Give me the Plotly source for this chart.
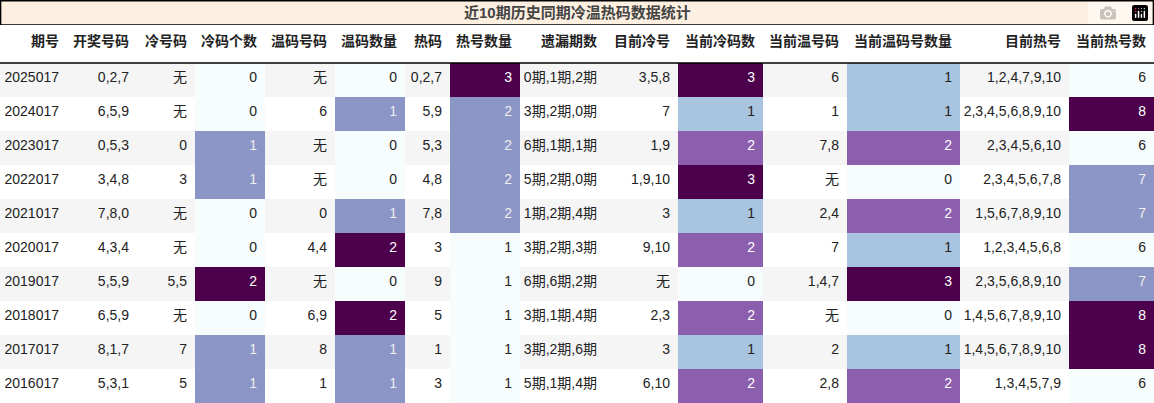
import plotly.graph_objects as go

headers = ["期号","开奖号码","冷号码","冷码个数","温码号码","温码数量","热码","热号数量","遗漏期数","目前冷号","当前冷码数","当前温号码","当前温码号数量","目前热号","当前热号数"]
issue = ["2025017","2024017","2023017","2022017","2021017","2020017","2019017","2018017","2017017","2016017"]
draw = ["0,2,7","6,5,9","0,5,3","3,4,8","7,8,0","4,3,4","5,5,9","6,5,9","8,1,7","5,3,1"]
cold = ["无","无","0","3","无","无","5,5","无","7","5"]
cold_n = [0,0,1,1,0,0,2,0,1,1]
warm = ["无","6","无","无","0","4,4","无","6,9","8","1"]
warm_n = [0,1,0,0,1,2,0,2,1,1]
hot = ["0,2,7","5,9","5,3","4,8","7,8","3","9","5","1","3"]
hot_n = [3,2,2,2,2,1,1,1,1,1]
miss = ["0期,1期,2期","3期,2期,0期","6期,1期,1期","5期,2期,0期","1期,2期,4期","3期,2期,3期","6期,6期,2期","3期,1期,4期","3期,2期,6期","5期,1期,4期"]
cur_cold = ["3,5,8","7","1,9","1,9,10","3","9,10","无","2,3","3","6,10"]
cur_cold_n = [3,1,2,3,1,2,0,2,1,2]
cur_warm = ["6","1","7,8","无","2,4","7","1,4,7","无","2","2,8"]
cur_warm_n = [1,1,2,0,2,1,3,0,1,2]
cur_hot = ["1,2,4,7,9,10","2,3,4,5,6,8,9,10","2,3,4,5,6,10","2,3,4,5,6,7,8","1,5,6,7,8,9,10","1,2,3,4,5,6,8","2,3,5,6,8,9,10","1,4,5,6,7,8,9,10","1,4,5,6,7,8,9,10","1,3,4,5,7,9"]
cur_hot_n = [6,8,6,7,7,6,7,8,8,6]

cols = [issue,draw,cold,cold_n,warm,warm_n,hot,hot_n,miss,cur_cold,cur_cold_n,cur_warm,cur_warm_n,cur_hot,cur_hot_n]
heat = {3,5,7,10,12,14}
widths = [67,70,58,70,70,70,45,70,85,73,85,84,113,109,85]

row_bg = ["#f5f5f5" if i % 2 == 0 else "#ffffff" for i in range(len(issue))]

def colour(v, lo, hi):
    t = (v - lo) / (hi - lo) if hi > lo else 0
    if t <= 0.01: return "#f7fcfd", "#222222"
    if abs(t - 1/3) < 0.05: return "#a8c4df", "#222222"
    if abs(t - 0.5) < 0.05: return "#8c96c6", "#eeeeee"
    if abs(t - 2/3) < 0.05: return "#8c5eae", "#ffffff"
    return "#4d004b", "#ffffff"

fills, fcols = [], []
for j, c in enumerate(cols):
    if j in heat:
        lo, hi = min(c), max(c)
        pr = [colour(v, lo, hi) for v in c]
        fills.append([p[0] for p in pr]); fcols.append([p[1] for p in pr])
    else:
        fills.append(row_bg); fcols.append(["#222222"] * len(c))

W, H = 1154, 403
top = 25
fig = go.Figure(go.Table(
    columnwidth=widths,
    header=dict(values=["<b>%s</b>" % h for h in headers], align="right",
                fill_color="white", line=dict(width=0, color="white"),
                font=dict(size=14, color="#222222", family="Liberation Sans, Noto Sans CJK SC"), height=38),
    cells=dict(values=cols, align="right", fill_color=fills, line=dict(width=0, color="white"),
               font=dict(size=14, color=fcols, family="Liberation Sans, Noto Sans CJK SC"), height=34),
    domain=dict(x=[0, 1], y=[0, 1 - top / H]),
))
fig.add_shape(type="rect", xref="paper", yref="paper", x0=0.0005, x1=0.9995, y0=1 - top / H, y1=0.998,
              fillcolor="#fef0e1", line=dict(color="black", width=1.5), layer="below")
fig.add_shape(type="line", xref="paper", yref="paper", x0=0, x1=1, y0=1 - 63 / H, y1=1 - 63 / H,
              line=dict(color="black", width=1.5))
fig.add_annotation(text="<b>近10期历史同期冷温热码数据统计</b>", xref="paper", yref="paper",
                   x=0.5, y=1 - 12.5 / H, xanchor="center", yanchor="middle", showarrow=False,
                   font=dict(size=15, color="#444444", family="Liberation Sans, Noto Sans CJK SC"))
fig.update_layout(width=W, height=H, margin=dict(l=0, r=0, t=0, b=0), paper_bgcolor="white")
fig.write_html("out.html")

with open("out.html", encoding="utf-8") as f:
    html = f.read()
html = html.replace("<head>", "<head><style>html,body{margin:0;padding:0;overflow:hidden}</style>", 1)
with open("out.html", "w", encoding="utf-8") as f:
    f.write(html)
